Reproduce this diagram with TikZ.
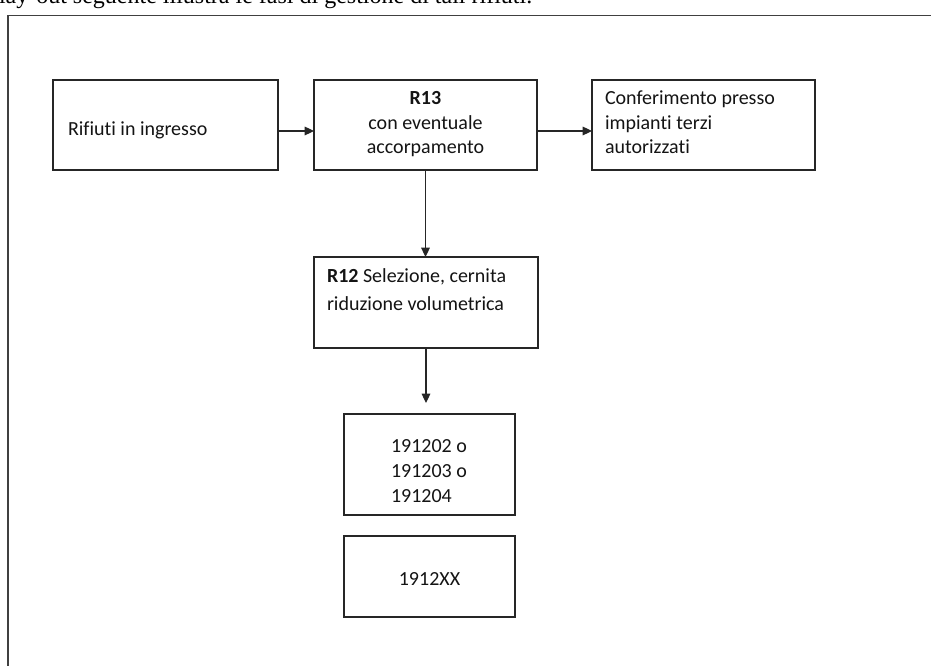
\documentclass[tikz,border=0pt]{standalone}
\usepackage{fontspec}
\setmainfont{Carlito}[RawFeature=-liga]
\newfontfamily\leadfont{Liberation Serif}
\usetikzlibrary{arrows.meta}

\begin{document}
\begin{tikzpicture}[x=0.75pt,y=-0.75pt,
  every node/.style={inner sep=0pt, outer sep=0pt},
  box/.style={draw=black!85, line width=0.9pt},
  txt/.style={font=\fontsize{15}{18}\selectfont, text=black!92},
  arr/.style={draw=black!85, line width=0.85pt, -{Triangle[length=7pt,width=6.5pt]}}]

  % page area
  \fill[white] (0,0) rectangle (931,666);
  \useasboundingbox (0,0) rectangle (931,666);

  % running text above the figure frame
  \node[anchor=base west, font=\leadfont\fontsize{18}{20}\selectfont] (lead) at (-1,3.5)
    {lay-out seguente illustra le fasi di gestione di tali rifiuti.};

  % figure frame
  \draw[line width=1.2pt, black!75] (8,15.5) rectangle (950,690);

  % boxes
  \node[box, minimum width=168.75pt, minimum height=67.5pt] (a) at (165.5,125) {};
  \node[box, minimum width=167.25pt, minimum height=67.5pt] (b) at (425.5,125) {};
  \node[box, minimum width=167.25pt, minimum height=67.5pt] (c) at (703.5,125) {};
  \node[box, minimum width=168pt,    minimum height=68.25pt] (d) at (426,302.5) {};
  \node[box, minimum width=128.25pt, minimum height=75.75pt] (e) at (429.5,464.5) {};
  \node[box, minimum width=128.25pt, minimum height=60.75pt] (f) at (429.5,576.5) {};

  % box texts
  \node[txt, anchor=base west] (a1) at (68,136) {Rifiuti in ingresso};

  \node[txt, anchor=base] (b1) at (425.5,105) {\textbf{R13}};
  \node[txt, anchor=base] (b2) at (425.5,130) {con eventuale};
  \node[txt, anchor=base] (b3) at (425.5,154) {accorpamento};

  \node[txt, anchor=base west] (c1) at (605,105) {Conferimento presso};
  \node[txt, anchor=base west] (c2) at (605,130) {impianti terzi};
  \node[txt, anchor=base west] (c3) at (605,154) {autorizzati};

  \node[txt, anchor=base west] (d1) at (327,283) {\textbf{R12} Selezione, cernita};
  \node[txt, anchor=base west] (d2) at (327,311) {riduzione volumetrica};

  \node[txt, anchor=base west] (e1) at (391,452) {191202 o};
  \node[txt, anchor=base west] (e2) at (391,477) {191203 o};
  \node[txt, anchor=base west] (e3) at (391,502) {191204};

  \node[txt, anchor=base] (f1) at (429.5,585) {1912XX};

  % connectors
  \draw[arr] ([yshift=-4.5pt]a.east) -- ([yshift=-4.5pt]b.west);
  \draw[arr] ([yshift=-4.5pt]b.east) -- ([yshift=-4.5pt]c.west);
  \draw[arr] (b.south) -- (b.south |- d.north);
  \draw[arr, shorten >=8.25pt] (d.south) -- (d.south |- e.north);
\end{tikzpicture}
\end{document}
